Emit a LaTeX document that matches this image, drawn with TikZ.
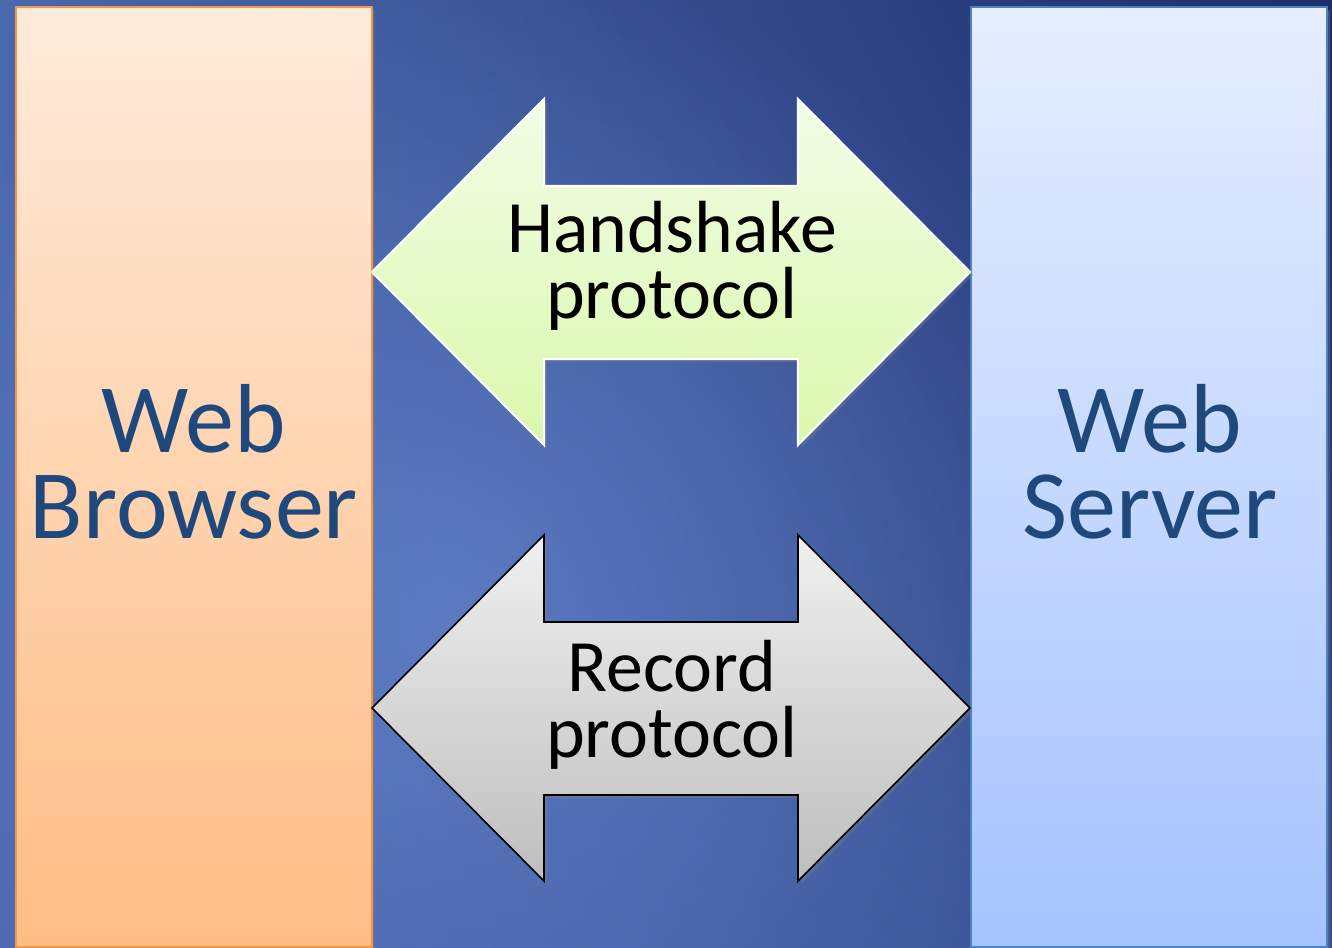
\documentclass[tikz,border=0pt]{standalone}
\usepackage{fontspec}
\setmainfont{Carlito}
\usepackage{xcolor}
\usepackage{tikz}
\usetikzlibrary{calc,shadows,shadings,fadings}
\definecolor{bgUL}{HTML}{4A68AE}
\definecolor{bgLL}{HTML}{4A66AE}
\definecolor{bgUR}{HTML}{1D2E6B}
\definecolor{bgLR}{HTML}{334D8D}
\definecolor{glowblue}{HTML}{7090DA}
\definecolor{peachtop}{HTML}{FFEBDB}
\definecolor{peachbot}{HTML}{FFBD85}
\definecolor{peachline}{HTML}{F79646}
\definecolor{skytop}{HTML}{E6EEFF}
\definecolor{skybot}{HTML}{A5C3FF}
\definecolor{skyline}{HTML}{4F81BD}
\definecolor{limetop}{HTML}{F2FDE6}
\definecolor{limebot}{HTML}{DAF8AC}
\definecolor{greytop}{HTML}{F0F0F0}
\definecolor{greybot}{HTML}{BEBEBE}
\definecolor{navytext}{HTML}{1F497D}
\tikzfading[name=glowfade, inner color=transparent!40, outer color=transparent!100]
\tikzset{
  shade/.style={drop shadow={shadow xshift=0.03cm, shadow yshift=-0.03cm, opacity=0.35}},
  browserbox/.style={shade, draw=peachline, line width=0.5pt, top color=peachtop, bottom color=peachbot},
  serverbox/.style={shade, draw=skyline, line width=0.6pt, top color=skytop, bottom color=skybot},
  hsarrow/.style={shade, draw=white, line width=0.6pt, line join=miter, top color=limetop, bottom color=limebot},
  recarrow/.style={shade, draw=black, line width=0.45pt, line join=miter, top color=greytop, bottom color=greybot},
  endlab/.style={text=navytext, align=center, inner sep=0pt, font=\fontsize{27.9pt}{24.2pt}\selectfont},
  arrlab/.style={text=black, align=center, inner sep=0pt, font=\fontsize{21pt}{18.5pt}\selectfont},
}
\begin{document}
\begin{tikzpicture}[x=0.01cm, y=-0.01cm]
  \useasboundingbox (0,0) rectangle (1332,948);
  \shade[upper left=bgUL, lower left=bgLL, upper right=bgUR, lower right=bgLR] (0,0) rectangle (1332,948);
  \fill[glowblue, path fading=glowfade] (450,620) circle (675);

  % the two ends
  \draw[browserbox] (16,7) rectangle (372,947);
  \draw[serverbox] (971,7) rectangle (1327,947);
  \node[endlab, anchor=base] (browser) at (194,538) {Web\\Browser};
  \node[endlab, anchor=base] (server) at (1150,538) {Web\\Server};

  % handshake arrow
  \def\ya{272}
  \coordinate (HL) at (372,\ya);
  \coordinate (HR) at (970,\ya);
  \draw[hsarrow] (HL) -- (544,\ya-173) -- (544,\ya-86) -- (798,\ya-86) -- (798,\ya-173)
    -- (HR) -- (798,\ya+173) -- (798,\ya+87) -- (544,\ya+87) -- (544,\ya+173) -- cycle;
  \node[arrlab, anchor=base] (handshake) at (672,318) {Handshake\\protocol};

  % record arrow
  \def\yb{708}
  \coordinate (RL) at (372,\yb);
  \coordinate (RR) at (970,\yb);
  \draw[recarrow] (RL) -- (544,\yb-173) -- (544,\yb-86) -- (798,\yb-86) -- (798,\yb-173)
    -- (RR) -- (798,\yb+173) -- (798,\yb+87) -- (544,\yb+87) -- (544,\yb+173) -- cycle;
  \node[arrlab, anchor=base] (record) at (672,757) {Record\\protocol};
\end{tikzpicture}
\end{document}
